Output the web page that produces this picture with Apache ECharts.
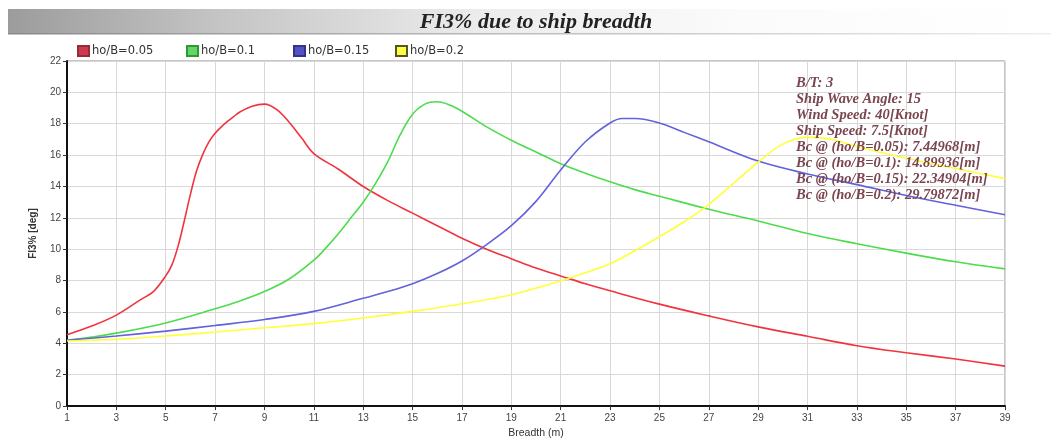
<!DOCTYPE html>
<html>
<head>
<meta charset="utf-8">
<script src="https://cdn.jsdelivr.net/npm/echarts@6/dist/echarts.min.js"></script>
<style>
  html, body { margin: 0; padding: 0; background: #ffffff; }
  #chart { width: 1051px; height: 444px; }
</style>
</head>
<body>
<div id="chart"></div>
<script>
// Roll angle FI3% [deg] against ship breadth B [m] for four ho/B ratios
const seriesNames = ['ho/B=0.05', 'ho/B=0.1', 'ho/B=0.15', 'ho/B=0.2'];

const breadth005 = [1, 2, 3, 4, 4.5, 5, 5.25, 5.5, 5.75, 6, 6.25, 6.5, 6.75, 7, 7.25, 7.5, 7.75, 8, 8.5, 9, 9.5, 10, 10.5, 11, 12, 13, 14, 15, 16, 17, 18, 19, 20, 21, 22, 23, 25, 27, 29, 31, 33, 35, 37, 39];
const fi005 = [4.55, 5.1, 5.8, 6.8, 7.3, 8.3, 9.0, 10.2, 11.8, 13.5, 15.0, 16.05, 16.85, 17.4, 17.8, 18.15, 18.45, 18.75, 19.12, 19.25, 18.9, 18.1, 17.1, 16.1, 15.1, 14.0, 13.1, 12.3, 11.5, 10.7, 10.0, 9.4, 8.8, 8.3, 7.8, 7.35, 6.5, 5.75, 5.05, 4.45, 3.85, 3.4, 3.0, 2.55];

const breadth01 = [1, 2, 3, 5, 7, 8, 9, 10, 11, 11.5, 12, 12.5, 13, 13.5, 14, 14.5, 15, 15.5, 16, 16.5, 17, 18, 19, 20, 21, 22, 23, 24, 25, 27, 29, 31, 33, 35, 37, 39];
const fi01 = [4.2, 4.4, 4.65, 5.3, 6.2, 6.7, 7.3, 8.1, 9.3, 10.1, 11.0, 12.0, 13.0, 14.2, 15.6, 17.3, 18.6, 19.25, 19.4, 19.2, 18.8, 17.8, 16.95, 16.2, 15.45, 14.85, 14.3, 13.8, 13.38, 12.55, 11.8, 11.0, 10.35, 9.75, 9.2, 8.75];

const breadth015 = [1, 3, 5, 7, 9, 11, 13, 14, 15, 16, 17, 18, 19, 20, 21, 22, 23, 23.5, 24, 25, 26, 27, 29, 31, 33, 35, 37, 39];
const fi015 = [4.2, 4.47, 4.78, 5.14, 5.52, 6.04, 6.87, 7.3, 7.8, 8.45, 9.25, 10.3, 11.5, 13.05, 15.05, 16.85, 18.05, 18.33, 18.33, 18.05, 17.45, 16.85, 15.62, 14.8, 14.12, 13.42, 12.8, 12.2];

const breadth02 = [1, 3, 5, 7, 9, 11, 13, 15, 17, 19, 21, 22, 23, 24, 25, 26, 27, 28, 29, 30, 31, 32, 33, 35, 37, 39];
const fi02 = [4.15, 4.26, 4.47, 4.72, 4.99, 5.26, 5.62, 6.04, 6.52, 7.1, 7.98, 8.5, 9.08, 9.9, 10.8, 11.75, 12.85, 14.2, 15.55, 16.7, 17.15, 17.0, 16.55, 15.8, 15.15, 14.5];

const lineColors = ['#f0343f', '#4ddc4d', '#6262dc', '#ffff38'];
const legendFill = ['#cc3a4e', '#66d466', '#5252c4', '#ffff44'];
const legendBorder = ['#9a2a38', '#2f9a2f', '#33338a', '#55552a'];
const legendLeft = [77, 186, 293, 395];

const infoLines = [
  'B/T: 3',
  'Ship Wave Angle: 15',
  'Wind Speed: 40[Knot]',
  'Ship Speed: 7.5[Knot]',
  'Bc @ (ho/B=0.05): 7.44968[m]',
  'Bc @ (ho/B=0.1): 14.89936[m]',
  'Bc @ (ho/B=0.15): 22.34904[m]',
  'Bc @ (ho/B=0.2): 29.79872[m]'
];

const xs = [breadth005, breadth01, breadth015, breadth02];
const ys = [fi005, fi01, fi015, fi02];

const chart = echarts.init(document.getElementById('chart'), null, { renderer: 'canvas' });

const series = seriesNames.map((name, i) => ({
  name: name,
  type: 'line',
  data: xs[i].map((x, k) => [x, ys[i][k]]),
  smooth: 0.35,
  showSymbol: false,
  symbol: 'none',
  lineStyle: { color: lineColors[i], width: 1.6 },
  itemStyle: { color: legendFill[i], borderColor: legendBorder[i], borderWidth: 1 },
  z: 3 + i,
  animation: false
}));

const legends = seriesNames.map((name, i) => ({
  data: [{ name: name, icon: 'rect' }],
  left: legendLeft[i],
  top: 45,
  itemWidth: 11,
  itemHeight: 10,
  itemGap: 0,
  textStyle: { fontFamily: 'DejaVu Sans', fontSize: 11.5, color: '#333', padding: [0, 0, 0, -2] },
  selectedMode: false,
  padding: 0
}));

chart.setOption({
  animation: false,
  backgroundColor: '#ffffff',
  title: {
    text: 'FI3% due to ship breadth',
    left: 536,
    top: 11,
    textAlign: 'center',
    textStyle: {
      fontFamily: 'Liberation Serif',
      fontStyle: 'italic',
      fontWeight: 'bold',
      fontSize: 22,
      color: '#222'
    },
    padding: 0
  },
  legend: legends,
  grid: {
    left: 67, right: 46, top: 61, bottom: 33,
    show: true,
    borderColor: '#8a8a8a',
    borderWidth: 1,
    backgroundColor: 'transparent'
  },
  xAxis: {
    type: 'value',
    min: 1,
    max: 39,
    interval: 2,
    name: 'Breadth (m)',
    nameLocation: 'middle',
    nameGap: 21,
    nameTextStyle: { fontFamily: 'Liberation Sans', fontSize: 10.5, color: '#333' },
    axisLine: { show: true, onZero: false, lineStyle: { color: '#111', width: 2 } },
    axisTick: { show: true, length: 4, lineStyle: { color: '#333' } },
    axisLabel: { fontFamily: 'Liberation Sans', fontSize: 10, color: '#444', margin: 7 },
    splitLine: { show: true, lineStyle: { color: '#d9d9d9', width: 1 } }
  },
  yAxis: {
    type: 'value',
    min: 0,
    max: 22,
    interval: 2,
    name: 'FI3% [deg]',
    nameLocation: 'middle',
    nameGap: 29,
    nameRotate: 90,
    nameTextStyle: { fontFamily: 'Liberation Sans', fontSize: 10, color: '#333', fontWeight: 'bold' },
    axisLine: { show: true, lineStyle: { color: '#111', width: 2 } },
    axisTick: { show: true, length: 4, lineStyle: { color: '#333' } },
    axisLabel: { fontFamily: 'Liberation Sans', fontSize: 10, color: '#444', margin: 6 },
    splitLine: { show: true, lineStyle: { color: '#d9d9d9', width: 1 } }
  },
  graphic: [
    {
      type: 'rect',
      left: 8,
      top: 9,
      z: -1,
      shape: { width: 1043, height: 25 },
      style: {
        fill: new echarts.graphic.LinearGradient(0, 0, 1, 0, [
          { offset: 0, color: '#9c9c9c' },
          { offset: 0.2, color: '#c4c4c4' },
          { offset: 0.45, color: '#ececec' },
          { offset: 0.7, color: '#fbfbfb' },
          { offset: 1, color: '#ffffff' }
        ])
      }
    },
    {
      type: 'rect',
      left: 8,
      top: 33,
      z: -1,
      shape: { width: 1043, height: 1.5 },
      style: {
        fill: new echarts.graphic.LinearGradient(0, 0, 1, 0, [
          { offset: 0, color: '#8a8a8a' },
          { offset: 0.6, color: '#c8c8c8' },
          { offset: 1, color: '#eeeeee' }
        ])
      }
    },
    {
      type: 'text',
      left: 796,
      top: 75,
      z: 10,
      style: {
        text: infoLines.join('\n'),
        fontFamily: 'Liberation Serif',
        fontStyle: 'italic',
        fontWeight: 'bold',
        fontSize: 14.5,
        lineHeight: 16,
        fill: '#7a4650'
      }
    }
  ],
  series: series
});
</script>
</body>
</html>
